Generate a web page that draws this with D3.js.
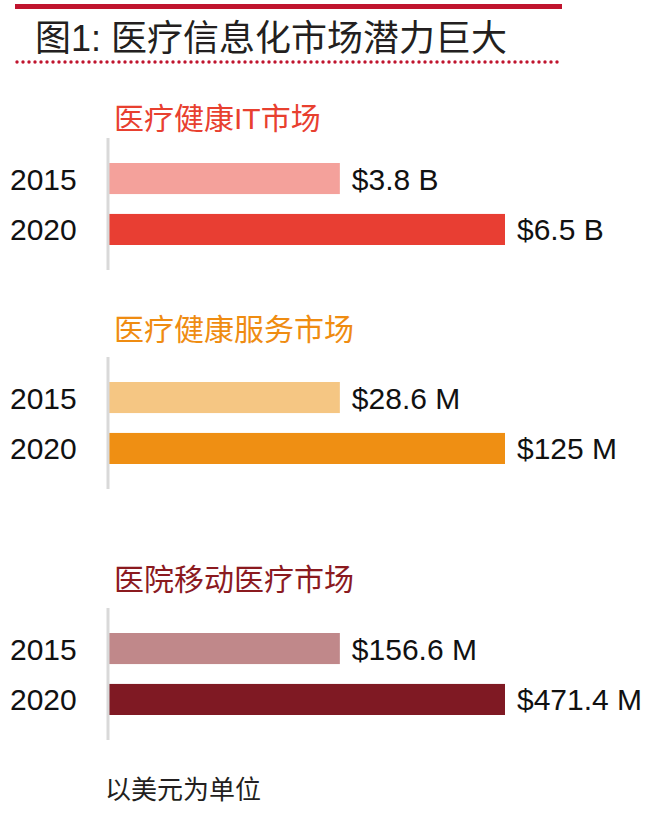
<!DOCTYPE html>
<html>
<head>
<meta charset="utf-8">
<script src="https://cdn.jsdelivr.net/npm/d3@7"></script>
<style>
    body { margin: 0; background: #fff; }
    text { font-family: "Liberation Sans", Arial, "Noto Sans CJK SC", sans-serif; }
    .cjk { font-family: "Liberation Sans", "Noto Sans CJK SC", sans-serif; }
</style>
</head>
<body>
<div id="chart"></div>
<script>
// chart data
const chartTitle = "图1: 医疗信息化市场潜力巨大";
const groupNames = ["医疗健康IT市场", "医疗健康服务市场", "医院移动医疗市场"];
const years = ["2015", "2020"];
// bar lengths as drawn, 2020 bar = 100 in every panel
const bars2015 = [58.4, 58.4, 58.4];
const bars2020 = [100, 100, 100];
const labels2015 = ["$3.8 B", "$28.6 M", "$156.6 M"];
const labels2020 = ["$6.5 B", "$125 M", "$471.4 M"];
const unitNote = "以美元为单位";

const titleColors = ["#e8402f", "#ef8c11", "#8b1a1f"];
const colors2015 = ["#f4a19b", "#f5c683", "#c0888a"];
const colors2020 = ["#e83e33", "#ef8f13", "#7f1923"];

const width = 658;
const height = 817;

const svg = d3.select("#chart")
    .append("svg")
    .attr("width", width)
    .attr("height", height);

// header: red rule, title, dotted rule
svg.append("rect")
    .attr("x", 15).attr("y", 4)
    .attr("width", 547).attr("height", 5)
    .attr("fill", "#c0142e");

svg.append("text")
    .attr("class", "cjk")
    .attr("x", 35).attr("y", 51)
    .attr("font-size", 36)
    .attr("fill", "#231f20")
    .text(chartTitle);

svg.append("g")
    .selectAll("circle")
    .data(d3.range(17, 562, 6))
    .enter()
    .append("circle")
    .attr("cx", d => d)
    .attr("cy", 62)
    .attr("r", 1.7)
    .attr("fill", "#c0142e");

// layout of the three panels
const panelTop = [163, 382, 633];   // top of the 2015 bar
const titleY = [129, 340, 590];

const x = d3.scaleLinear()
    .domain([0, 100])
    .range([108, 505]);

const y = d3.scaleBand()
    .domain(years)
    .range([0, 82])
    .paddingInner(0.39);

const panels = groupNames.map((name, i) => ({
    name,
    titleColor: titleColors[i],
    top: panelTop[i],
    titleY: titleY[i],
    rows: [
        { year: years[0], value: bars2015[i], label: labels2015[i], color: colors2015[i] },
        { year: years[1], value: bars2020[i], label: labels2020[i], color: colors2020[i] }
    ]
}));

const panel = svg.selectAll("g.panel")
    .data(panels)
    .enter()
    .append("g")
    .attr("class", "panel");

panel.append("text")
    .attr("class", "cjk")
    .attr("x", 114)
    .attr("y", d => d.titleY)
    .attr("font-size", 30)
    .attr("fill", d => d.titleColor)
    .text(d => d.name);

const rows = panel.append("g")
    .attr("transform", d => `translate(0,${d.top})`);

rows.selectAll("rect")
    .data(d => d.rows)
    .enter()
    .append("rect")
    .attr("x", x(0))
    .attr("y", d => y(d.year))
    .attr("width", d => x(d.value) - x(0))
    .attr("height", y.bandwidth())
    .attr("fill", d => d.color);

rows.selectAll("text.year")
    .data(d => d.rows)
    .enter()
    .append("text")
    .attr("class", "year")
    .attr("x", 10)
    .attr("y", d => y(d.year) + y.bandwidth() / 2 + 11)
    .attr("font-size", 30)
    .attr("fill", "#111")
    .text(d => d.year);

rows.selectAll("text.value")
    .data(d => d.rows)
    .enter()
    .append("text")
    .attr("class", "value")
    .attr("x", d => x(d.value) + 12)
    .attr("y", d => y(d.year) + y.bandwidth() / 2 + 11)
    .attr("font-size", 30)
    .attr("fill", "#111")
    .text(d => d.label);

// thin grey baseline for each panel
rows.append("line")
    .attr("x1", x(0)).attr("x2", x(0))
    .attr("y1", -25)
    .attr("y2", y.range()[1] + 25)
    .attr("stroke", "#d9d9d9")
    .attr("stroke-width", 3);

svg.append("text")
    .attr("class", "cjk")
    .attr("x", 105).attr("y", 799)
    .attr("font-size", 26)
    .attr("fill", "#231f20")
    .text(unitNote);
</script>
</body>
</html>
